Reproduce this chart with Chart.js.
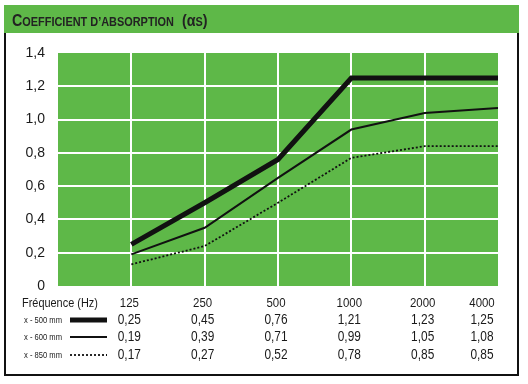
<!DOCTYPE html>
<html>
<head>
<meta charset="utf-8">
<script src="https://cdn.jsdelivr.net/npm/chart.js@4/dist/chart.umd.min.js"></script>
<style>
  html, body { margin: 0; padding: 0; background: #fff; }
  #wrap { position: relative; width: 528px; height: 384px; }
</style>
</head>
<body>
<div id="wrap"><canvas id="absorption" width="528" height="384"></canvas></div>
<script>
const frequencies = ["125", "250", "500", "1000", "2000", "4000"];
const seriesLabels = ["x - 500 mm", "x - 600 mm", "x - 850 mm"];

// values as plotted on the curves
const plot500 = [0.25, 0.50, 0.76, 1.25, 1.25, 1.25];
const plot600 = [0.19, 0.35, 0.65, 0.94, 1.04, 1.07];
const plot850 = [0.13, 0.24, 0.50, 0.77, 0.84, 0.84];

// values printed in the table below the chart
const table500 = ["0,25", "0,45", "0,76", "1,21", "1,23", "1,25"];
const table600 = ["0,19", "0,39", "0,71", "0,99", "1,05", "1,08"];
const table850 = ["0,17", "0,27", "0,52", "0,78", "0,85", "0,85"];

const yTicks = [0, 0.2, 0.4, 0.6, 0.8, 1.0, 1.2, 1.4];

const GREEN = "rgb(94, 184, 72)";
const INK = "#1a1a1a";
const SANS = "'Liberation Sans', Arial, sans-serif";

const toPoints = arr => arr.map((v, i) => ({ x: i + 1, y: v }));

// text squeezed horizontally, to get the narrow look of the original
function narrowText(ctx, text, x, y, font, align, sx) {
  ctx.save();
  ctx.font = font;
  const w = ctx.measureText(text).width * sx;
  let left = x;
  if (align === "center") left = x - w / 2;
  if (align === "right") left = x - w;
  ctx.translate(left, y);
  ctx.scale(sx, 1);
  ctx.textAlign = "left";
  ctx.fillText(text, 0, 0);
  ctx.restore();
  return w;
}

const frameAndTable = {
  id: "frameAndTable",
  beforeDraw(chart) {
    const ctx = chart.ctx;
    const a = chart.chartArea;
    ctx.save();
    ctx.fillStyle = GREEN;
    ctx.fillRect(4, 5, 515, 28);
    ctx.fillRect(a.left, a.top, a.right - a.left, a.bottom - a.top);
    ctx.restore();
  },
  afterDraw(chart) {
    const ctx = chart.ctx;
    const a = chart.chartArea;
    const xs = chart.scales.x;
    ctx.save();

    // frame
    ctx.strokeStyle = "#111";
    ctx.lineWidth = 2;
    ctx.beginPath();
    ctx.moveTo(5, 33);
    ctx.lineTo(5, 375);
    ctx.lineTo(518, 375);
    ctx.lineTo(518, 33);
    ctx.stroke();

    // title (small caps)
    ctx.fillStyle = "#222";
    ctx.textBaseline = "alphabetic";
    let x = 12;
    const big = "bold 17px " + SANS;
    const small = "bold 13px " + SANS;
    const parts = [
      ["C", big], ["OEFFICIENT D\u2019ABSORPTION", small], ["  (", big], ["\u03b1", big], ["S", small], [")", big]
    ];
    parts.forEach(p => {
      x += narrowText(ctx, p[0], x, 26, p[1], "left", 0.84);
    });

    // table
    const cols = frequencies.map((f, i) => {
      const px = xs.getPixelForValue(i + 1);
      return Math.min(px, a.right - 14) - 2;
    });
    ctx.fillStyle = INK;
    ctx.textBaseline = "middle";
    const headFont = "13px " + SANS;
    narrowText(ctx, "Fréquence (Hz)", 22, 303, headFont, "left", 0.84);
    frequencies.forEach((f, i) => narrowText(ctx, f, cols[i], 303, headFont, "center", 0.88));

    const rows = [table500, table600, table850];
    const rowY = [320, 337, 355];
    rows.forEach((r, j) => {
      r.forEach((v, i) => narrowText(ctx, v, cols[i], rowY[j], "14px " + SANS, "center", 0.85));
      narrowText(ctx, seriesLabels[j], 24, rowY[j], "9.5px " + SANS, "left", 0.8);
    });

    // legend samples
    const ds = chart.data.datasets;
    rowY.forEach((y, j) => {
      ctx.strokeStyle = ds[j].borderColor;
      ctx.lineWidth = ds[j].borderWidth;
      ctx.setLineDash(ds[j].borderDash || []);
      ctx.beginPath();
      ctx.moveTo(70, y);
      ctx.lineTo(107, y);
      ctx.stroke();
    });
    ctx.restore();
  }
};

new Chart(document.getElementById("absorption"), {
  type: "line",
  data: {
    datasets: [
      { label: seriesLabels[0], data: toPoints(plot500), borderColor: "#111", borderWidth: 5 },
      { label: seriesLabels[1], data: toPoints(plot600), borderColor: "#111", borderWidth: 2 },
      { label: seriesLabels[2], data: toPoints(plot850), borderColor: "#111", borderWidth: 1.8, borderDash: [2, 2] }
    ]
  },
  options: {
    responsive: false,
    animation: false,
    events: [],
    elements: { point: { radius: 0 }, line: { tension: 0, borderCapStyle: "butt" } },
    layout: { padding: { left: 0, top: 53, right: 30, bottom: 98 } },
    plugins: { legend: { display: false }, tooltip: { enabled: false }, title: { display: false } },
    scales: {
      x: {
        type: "linear",
        display: true,
        min: 0,
        max: 6,
        afterFit: s => { s.height = 0; },
        ticks: { display: false, stepSize: 1 },
        border: { display: false },
        grid: {
          drawTicks: false,
          lineWidth: 2,
          color: c => (c.tick.value > 0 && c.tick.value < 6) ? "#fff" : "rgba(0,0,0,0)"
        }
      },
      y: {
        min: 0,
        max: 1.4,
        afterFit: s => { s.width = 58; },
        afterBuildTicks: s => { s.ticks = yTicks.map(v => ({ value: v })); },
        border: { display: false },
        grid: {
          drawTicks: false,
          lineWidth: 2,
          color: c => (c.tick.value > 0.01 && c.tick.value < 1.39) ? "#fff" : "rgba(0,0,0,0)"
        },
        ticks: {
          padding: 13,
          color: INK,
          font: { family: SANS, size: 14 },
          callback: v => v === 0 ? "0" : v.toFixed(1).replace(".", ",")
        }
      }
    }
  },
  plugins: [frameAndTable]
});
</script>
</body>
</html>
